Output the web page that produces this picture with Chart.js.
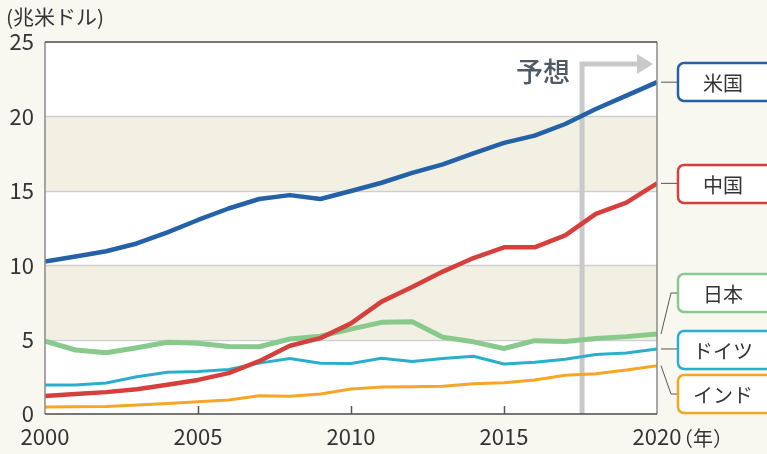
<!DOCTYPE html>
<html><head><meta charset="utf-8">
<script src="https://cdn.jsdelivr.net/npm/chart.js@4"></script>
<style>
html,body{margin:0;padding:0;background:#f8f7f0;}
#wrap{width:767px;height:454px;position:relative;}
</style></head>
<body><div id="wrap"><canvas id="c" width="767" height="454"></canvas></div>
<script>
const years = [2000,2001,2002,2003,2004,2005,2006,2007,2008,2009,2010,2011,2012,2013,2014,2015,2016,2017,2018,2019,2020];
const usa     = [10.25,10.58,10.94,11.46,12.21,13.04,13.81,14.45,14.71,14.45,14.99,15.54,16.20,16.78,17.52,18.22,18.71,19.49,20.50,21.40,22.30];
const china   = [1.21,1.34,1.47,1.66,1.96,2.29,2.75,3.55,4.59,5.10,6.09,7.55,8.53,9.57,10.48,11.20,11.20,12.00,13.45,14.20,15.50];
const japan   = [4.89,4.30,4.12,4.45,4.82,4.76,4.53,4.52,5.04,5.23,5.70,6.16,6.20,5.16,4.85,4.40,4.93,4.87,5.07,5.20,5.38];
const germany = [1.95,1.95,2.08,2.50,2.81,2.85,2.99,3.42,3.73,3.41,3.40,3.74,3.53,3.73,3.88,3.36,3.47,3.68,4.00,4.10,4.37];
const india   = [0.47,0.49,0.51,0.60,0.70,0.82,0.94,1.22,1.20,1.34,1.68,1.82,1.83,1.86,2.04,2.10,2.29,2.60,2.70,2.95,3.25];
const seriesNames = ['米国','中国','日本','ドイツ','インド'];
const yTicks = [0,5,10,15,20,25];
const xTicks = [2000,2005,2010,2015,2020];
const forecastStart = 2017.55;
const bands = [[5,10],[15,20]];
const yTitle = '(兆米ドル)';
const xUnit = '（年）';
const forecastLabel = '予想';

const colors = ['#2461a6','#d53f3c','#88c98c','#2aafcb','#f6a524'];
const FONT = '"Noto Sans CJK JP","Noto Sans",sans-serif';

function pts(arr){ return years.map((y,i)=>({x:y,y:arr[i]})); }

const bgPlugin = {
  id:'bgPlugin',
  beforeDatasetsDraw(chart){
    const {ctx, chartArea:a, scales:{x,y}} = chart;
    ctx.save();
    ctx.fillStyle='#ffffff';
    ctx.fillRect(a.left,a.top,a.right-a.left,a.bottom-a.top);
    ctx.fillStyle='#f2efe3';
    bands.forEach(b=>{
      const y1=y.getPixelForValue(b[1]), y0=y.getPixelForValue(b[0]);
      ctx.fillRect(a.left,y1,a.right-a.left,y0-y1);
    });
    ctx.strokeStyle='#cfcfcf'; ctx.lineWidth=1.5;
    yTicks.forEach(t=>{
      if(t===0||t===25) return;
      const py=Math.round(y.getPixelForValue(t))+0.5;
      ctx.beginPath(); ctx.moveTo(a.left,py); ctx.lineTo(a.right,py); ctx.stroke();
    });
    // forecast marker
    const fx=x.getPixelForValue(forecastStart);
    const ty=a.top+22;
    ctx.strokeStyle='#c9c9c9'; ctx.lineWidth=5; ctx.lineJoin='miter';
    ctx.beginPath(); ctx.moveTo(fx,a.bottom); ctx.lineTo(fx,ty); ctx.lineTo(a.right-18,ty); ctx.stroke();
    ctx.fillStyle='#c9c9c9';
    ctx.beginPath(); ctx.moveTo(a.right-20,ty-10); ctx.lineTo(a.right-4,ty); ctx.lineTo(a.right-20,ty+10); ctx.closePath(); ctx.fill();
    ctx.fillStyle='#4f5a64'; ctx.font='500 27px '+FONT; ctx.textAlign='right'; ctx.textBaseline='middle';
    ctx.fillText(forecastLabel, fx-12, a.top+30);
    ctx.restore();
  },
  afterDatasetsDraw(chart){
    const {ctx, chartArea:a, scales:{x,y}} = chart;
    ctx.save();
    // frame
    ctx.lineWidth=1.5;
    ctx.strokeStyle='#8a8a8a';
    ctx.beginPath(); ctx.moveTo(a.left,a.top); ctx.lineTo(a.left,a.bottom); ctx.stroke();
    ctx.beginPath(); ctx.moveTo(a.right,a.top); ctx.lineTo(a.right,a.bottom); ctx.stroke();
    ctx.strokeStyle='#4a4a4a';
    ctx.beginPath(); ctx.moveTo(a.left,a.top); ctx.lineTo(a.right,a.top); ctx.stroke();
    ctx.beginPath(); ctx.moveTo(a.left,a.bottom); ctx.lineTo(a.right,a.bottom); ctx.stroke();
    // inner ticks
    ctx.strokeStyle='#555'; ctx.lineWidth=1.5;
    xTicks.forEach(t=>{
      if(t===2000||t===2020) return;
      const px=Math.round(x.getPixelForValue(t))+0.5;
      ctx.beginPath(); ctx.moveTo(px,a.bottom); ctx.lineTo(px,a.bottom-8); ctx.stroke();
    });
    // y title
    ctx.fillStyle='#333'; ctx.font='20px '+FONT; ctx.textAlign='left'; ctx.textBaseline='middle';
    ctx.save(); ctx.translate(6,17); ctx.scale(1.05,1); ctx.fillText(yTitle, 0, 0); ctx.restore();
    // x unit
    ctx.font='20px '+FONT; ctx.textBaseline='middle';
    ctx.fillText(xUnit, x.getPixelForValue(2020)+16, a.bottom+24);
    // legend boxes
    const boxL=677, boxW=110, boxH=38;
    const boxes=[{cy:82},{cy:184},{cy:293},{cy:350},{cy:394}];
    const ends=[usa,china,japan,germany,india].map(s=>y.getPixelForValue(s[s.length-1]));
    ctx.strokeStyle='#555'; ctx.lineWidth=1;
    boxes.forEach((b,i)=>{
      const ey=ends[i];
      ctx.beginPath(); ctx.moveTo(a.right+4,ey);
      if(Math.abs(ey-b.cy)>4){ ctx.lineTo(boxL-6,b.cy); ctx.lineTo(boxL,b.cy); }
      else ctx.lineTo(boxL,ey);
      ctx.stroke();
    });
    boxes.forEach((b,i)=>{
      ctx.fillStyle='#ffffff'; ctx.strokeStyle=colors[i]; ctx.lineWidth=2.5;
      ctx.beginPath(); ctx.roundRect(boxL+1,b.cy-boxH/2,boxW,boxH,6); ctx.fill(); ctx.stroke();
      ctx.fillStyle='#333'; ctx.font='20px '+FONT; ctx.textAlign='center'; ctx.textBaseline='middle';
      ctx.fillText(seriesNames[i], 723, b.cy+1);
    });
    ctx.restore();
  }
};

const mk=(label,data,color,w,order)=>({label,data:pts(data),borderColor:color,backgroundColor:color,borderWidth:w,pointRadius:0,tension:0,borderJoinStyle:'round',fill:false,order});

new Chart(document.getElementById('c'),{
  type:'line',
  data:{datasets:[
    mk(seriesNames[0],usa,colors[0],4.5,1),
    mk(seriesNames[1],china,colors[1],4.5,0),
    mk(seriesNames[2],japan,colors[2],5,3),
    mk(seriesNames[3],germany,colors[3],3,2),
    mk(seriesNames[4],india,colors[4],3,4)
  ]},
  options:{
    responsive:false, animation:false,
    layout:{padding:{top:42,right:110,left:0,bottom:0}},
    plugins:{legend:{display:false},tooltip:{enabled:false}},
    scales:{
      x:{type:'linear',min:2000,max:2020,
        afterFit(s){s.height=40;},
        afterBuildTicks(s){s.ticks=xTicks.map(v=>({value:v}));},
        grid:{display:false,drawTicks:false},border:{display:false},
        ticks:{padding:9,color:'#333',font:{family:FONT,size:22},maxRotation:0,autoSkip:false,callback:v=>String(v)}},
      y:{min:0,max:25,
        afterFit(s){s.width=45;},
        afterBuildTicks(s){s.ticks=yTicks.map(v=>({value:v}));},
        grid:{display:false,drawTicks:false},border:{display:false},
        ticks:{padding:11,color:'#333',font:{family:FONT,size:22},callback:v=>String(v)}}
    }
  },
  plugins:[bgPlugin]
});
</script></body></html>
